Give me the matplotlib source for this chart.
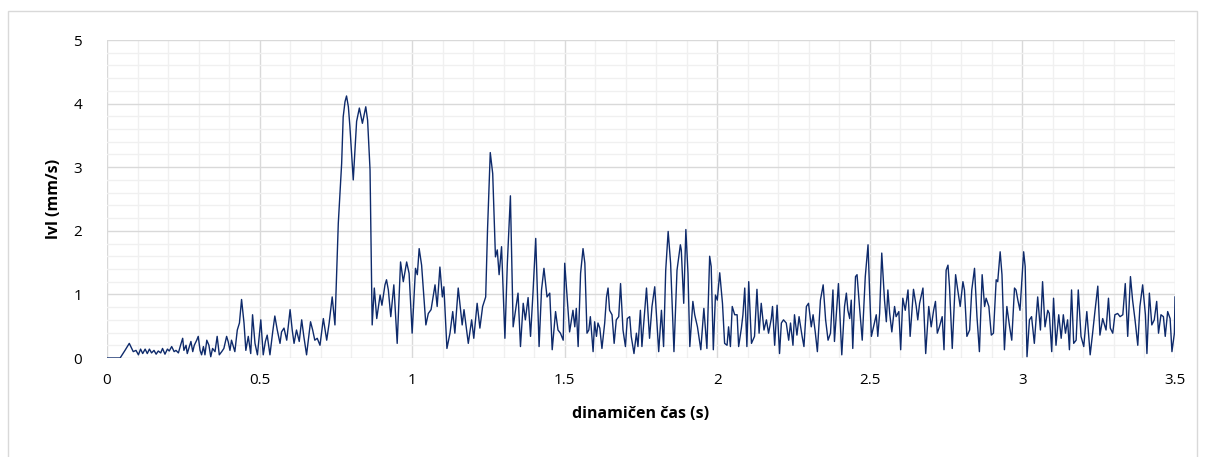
import matplotlib.pyplot as plt
from matplotlib.patches import Rectangle
from matplotlib.ticker import MultipleLocator

# time (s) and |v| (mm/s)
t_start = [0.0, 0.010, 0.043, 0.059, 0.073, 0.086, 0.095, 0.103, 0.110, 0.117,
           0.125, 0.132, 0.139, 0.146, 0.154, 0.161, 0.168, 0.176, 0.182, 0.190,
           0.198, 0.204, 0.212, 0.220, 0.226, 0.234, 0.241, 0.248, 0.252, 0.259,
           0.263, 0.270, 0.275, 0.281, 0.286, 0.294, 0.299, 0.305, 0.310, 0.316,
           0.321, 0.327, 0.334, 0.340, 0.346, 0.354, 0.361, 0.368, 0.376, 0.383,
           0.392, 0.397, 0.403, 0.408, 0.414, 0.419, 0.427, 0.434, 0.441, 0.449,
           0.455, 0.463, 0.471, 0.477, 0.485, 0.493, 0.504, 0.512, 0.519, 0.525,
           0.534, 0.543, 0.550, 0.558, 0.567, 0.572, 0.580, 0.589, 0.600, 0.607,
           0.613, 0.621, 0.630, 0.638, 0.645, 0.654, 0.667, 0.674, 0.681, 0.689,
           0.698, 0.709, 0.720, 0.728, 0.738, 0.747]
v_start = [0.0, 0.0, 0.0, 0.12, 0.23, 0.10, 0.12, 0.05, 0.14, 0.07,
           0.14, 0.07, 0.14, 0.08, 0.12, 0.06, 0.11, 0.08, 0.15, 0.06,
           0.14, 0.11, 0.18, 0.10, 0.12, 0.08, 0.20, 0.31, 0.12, 0.20,
           0.07, 0.18, 0.26, 0.10, 0.20, 0.28, 0.34, 0.12, 0.05, 0.18,
           0.05, 0.28, 0.20, 0.02, 0.15, 0.10, 0.34, 0.05, 0.10, 0.15,
           0.34, 0.26, 0.12, 0.28, 0.18, 0.10, 0.44, 0.55, 0.92, 0.55,
           0.12, 0.34, 0.07, 0.68, 0.23, 0.05, 0.60, 0.05, 0.26, 0.36,
           0.05, 0.41, 0.66, 0.44, 0.23, 0.41, 0.47, 0.28, 0.76, 0.44,
           0.23, 0.44, 0.26, 0.60, 0.34, 0.05, 0.57, 0.44, 0.28, 0.31,
           0.20, 0.62, 0.28, 0.55, 0.96, 0.52]

t_peak = [0.758, 0.769, 0.774, 0.780, 0.785, 0.791, 0.796, 0.807, 0.818, 0.827,
          0.837, 0.848, 0.854, 0.862, 0.869, 0.876, 0.884, 0.895, 0.901, 0.911,
          0.916, 0.922, 0.930, 0.940, 0.951, 0.962, 0.971, 0.982, 0.990, 1.000,
          1.011, 1.017, 1.023, 1.031, 1.045, 1.053, 1.062, 1.075, 1.082, 1.091,
          1.099, 1.104, 1.114, 1.124, 1.133, 1.140, 1.151, 1.164, 1.170, 1.184,
          1.195, 1.202, 1.213, 1.222, 1.231, 1.241, 1.247, 1.256, 1.264, 1.273,
          1.279, 1.285, 1.293, 1.304, 1.312, 1.322, 1.331, 1.347, 1.355, 1.364,
          1.371, 1.380, 1.388, 1.396, 1.405, 1.416, 1.424, 1.432, 1.442, 1.451,
          1.459, 1.470, 1.478, 1.486, 1.495]
v_peak = [2.12, 3.06, 3.79, 4.03, 4.12, 3.95, 3.64, 2.80, 3.72, 3.93,
          3.69, 3.95, 3.74, 2.96, 0.52, 1.10, 0.62, 0.99, 0.83, 1.15,
          1.23, 1.07, 0.65, 1.15, 0.23, 1.51, 1.20, 1.51, 1.33, 0.39,
          1.41, 1.31, 1.72, 1.46, 0.52, 0.70, 0.76, 1.15, 0.81, 1.43,
          0.96, 1.12, 0.15, 0.39, 0.73, 0.39, 1.10, 0.52, 0.76, 0.23,
          0.60, 0.31, 0.86, 0.47, 0.81, 0.96, 2.01, 3.23, 2.90, 1.59,
          1.70, 1.31, 1.75, 0.31, 1.49, 2.55, 0.49, 1.02, 0.18, 0.86,
          0.60, 0.95, 0.34, 1.02, 1.88, 0.18, 1.07, 1.41, 0.96, 1.02,
          0.13, 0.73, 0.44, 0.39, 0.28]

t_mid = [1.500, 1.516, 1.527, 1.533, 1.538, 1.544, 1.552, 1.560, 1.566, 1.573,
         1.579, 1.584, 1.593, 1.598, 1.604, 1.609, 1.615, 1.622, 1.631, 1.637,
         1.642, 1.647, 1.655, 1.662, 1.669, 1.677, 1.683, 1.691, 1.699, 1.705,
         1.713, 1.718, 1.727, 1.735, 1.740, 1.748, 1.753, 1.760, 1.768, 1.778,
         1.786, 1.795, 1.801, 1.808, 1.817, 1.824, 1.831, 1.839, 1.847, 1.858,
         1.868, 1.879, 1.882, 1.890, 1.897, 1.904, 1.910, 1.920, 1.926, 1.935,
         1.946, 1.956, 1.966, 1.975, 1.980, 1.987, 1.994, 2.000, 2.008, 2.017,
         2.024, 2.032, 2.037, 2.043, 2.049, 2.057, 2.065, 2.070, 2.079, 2.084,
         2.090, 2.097, 2.103, 2.112, 2.122, 2.130, 2.137, 2.144, 2.153, 2.161,
         2.168, 2.177, 2.181, 2.188, 2.196, 2.204, 2.210, 2.217, 2.226, 2.234,
         2.240, 2.248, 2.253, 2.261, 2.268, 2.278, 2.284, 2.292, 2.299, 2.308,
         2.314, 2.321, 2.328, 2.338, 2.347, 2.355, 2.363, 2.371, 2.379]
v_mid = [1.49, 0.41, 0.75, 0.49, 0.78, 0.18, 1.33, 1.72, 1.49, 0.39,
         0.44, 0.65, 0.10, 0.57, 0.34, 0.55, 0.47, 0.15, 0.55, 0.96,
         1.10, 0.75, 0.68, 0.23, 0.60, 0.65, 1.17, 0.44, 0.18, 0.62,
         0.65, 0.34, 0.07, 0.39, 0.18, 0.75, 0.18, 0.62, 1.10, 0.31,
         0.81, 1.12, 0.65, 0.10, 0.75, 0.18, 1.38, 1.99, 1.49, 0.10,
         1.38, 1.78, 1.70, 0.86, 2.02, 1.33, 0.18, 0.89, 0.68, 0.49,
         0.13, 0.78, 0.15, 1.60, 1.44, 0.13, 0.99, 0.91, 1.34, 0.86,
         0.23, 0.20, 0.49, 0.18, 0.81, 0.68, 0.68, 0.18, 0.47, 0.68,
         1.10, 0.18, 1.20, 0.23, 0.34, 1.08, 0.39, 0.86, 0.44, 0.60,
         0.39, 0.62, 0.81, 0.20, 0.83, 0.07, 0.55, 0.60, 0.55, 0.28,
         0.55, 0.20, 0.68, 0.36, 0.65, 0.34, 0.18, 0.81, 0.86, 0.49,
         0.68, 0.41, 0.10, 0.91, 1.15, 0.60, 0.28, 0.39, 1.07]

t_late = [2.384, 2.397, 2.408, 2.417, 2.423, 2.428, 2.434, 2.439, 2.444, 2.453,
          2.458, 2.466, 2.475, 2.485, 2.494, 2.499, 2.505, 2.512, 2.521, 2.526,
          2.532, 2.539, 2.548, 2.554, 2.559, 2.565, 2.572, 2.581, 2.586, 2.595,
          2.601, 2.608, 2.616, 2.625, 2.632, 2.643, 2.652, 2.657, 2.663, 2.674,
          2.683, 2.693, 2.701, 2.709, 2.715, 2.721, 2.728, 2.737, 2.743, 2.750,
          2.756, 2.761, 2.770, 2.781, 2.788, 2.796, 2.805, 2.810, 2.818, 2.827,
          2.834, 2.843, 2.851, 2.859, 2.868, 2.876, 2.881, 2.890, 2.898, 2.905,
          2.914, 2.919, 2.927, 2.933, 2.941, 2.949, 2.958, 2.965, 2.974, 2.979,
          2.985, 2.992, 3.004, 3.009, 3.015, 3.023, 3.030, 3.039, 3.050, 3.059,
          3.066, 3.074, 3.083, 3.088, 3.096, 3.102, 3.110, 3.119, 3.127, 3.134,
          3.141, 3.148, 3.154, 3.161, 3.168, 3.176, 3.183, 3.192, 3.201, 3.211,
          3.222, 3.230, 3.238, 3.247, 3.254, 3.263, 3.274, 3.282, 3.288, 3.296,
          3.303, 3.312, 3.320, 3.329, 3.337, 3.345, 3.354, 3.361, 3.369, 3.378,
          3.385, 3.394, 3.403, 3.408, 3.416, 3.424, 3.432, 3.440, 3.446, 3.454,
          3.462, 3.468, 3.476, 3.484, 3.490, 3.498, 3.500]
v_late = [0.26, 1.17, 0.05, 0.81, 1.02, 0.75, 0.62, 0.91, 0.15, 1.28,
          1.31, 0.81, 0.28, 1.28, 1.78, 1.07, 0.34, 0.49, 0.68, 0.34,
          0.70, 1.65, 0.91, 0.57, 1.07, 0.70, 0.41, 0.81, 0.65, 0.73,
          0.13, 0.94, 0.75, 1.07, 0.34, 1.08, 0.81, 0.60, 0.86, 1.10,
          0.07, 0.81, 0.49, 0.75, 0.89, 0.39, 0.49, 0.65, 0.13, 1.38,
          1.46, 1.12, 0.15, 1.31, 1.07, 0.81, 1.20, 1.07, 0.34, 0.44,
          1.07, 1.41, 0.65, 0.10, 1.31, 0.81, 0.94, 0.81, 0.36, 0.39,
          1.23, 1.20, 1.67, 1.31, 0.13, 0.81, 0.49, 0.28, 1.10, 1.07,
          0.91, 0.75, 1.67, 1.44, 0.02, 0.60, 0.65, 0.23, 0.96, 0.44,
          1.20, 0.49, 0.75, 0.70, 0.10, 0.94, 0.20, 0.68, 0.31, 0.68,
          0.39, 0.60, 0.13, 1.07, 0.23, 0.28, 1.07, 0.34, 0.18, 0.73,
          0.05, 0.39, 0.75, 1.13, 0.36, 0.62, 0.44, 0.94, 0.47, 0.39,
          0.68, 0.70, 0.65, 0.68, 1.17, 0.34, 1.28, 0.91, 0.60, 0.20,
          0.81, 1.15, 0.68, 0.07, 1.02, 0.52, 0.60, 0.89, 0.39, 0.68,
          0.65, 0.34, 0.73, 0.62, 0.10, 0.39, 0.96]

t = t_start + t_peak + t_mid + t_late
v = v_start + v_peak + v_mid + v_late

plt.rcParams['font.family'] = ['Open Sans', 'DejaVu Sans']

fig = plt.figure(figsize=(12.06, 4.57), dpi=100)
ax = fig.add_axes([107 / 1206, 1 - 358 / 457, 1068 / 1206, 318 / 457])

ax.plot(t, v, color='#0E2A6B', linewidth=1.0)

ax.set_xlim(0, 3.5)
ax.set_ylim(0, 5)
ax.xaxis.set_major_locator(MultipleLocator(0.5))
ax.xaxis.set_minor_locator(MultipleLocator(0.1))
ax.yaxis.set_major_locator(MultipleLocator(1))
ax.yaxis.set_minor_locator(MultipleLocator(0.2))
ax.set_xticks([0, 0.5, 1, 1.5, 2, 2.5, 3, 3.5])
ax.set_xticklabels(['0', '0.5', '1', '1.5', '2', '2.5', '3', '3.5'])
ax.grid(which='minor', color='#F0F0F0', linewidth=1.0)
ax.grid(which='major', color='#D9D9D9', linewidth=1.0)
ax.set_axisbelow(True)
for s in ax.spines.values():
    s.set_visible(False)
ax.tick_params(which='both', length=0, labelsize=11, colors='#000000')
ax.tick_params(axis='y', pad=18)
ax.tick_params(axis='x', pad=11)

ax.set_xlabel('dinamičen čas (s)', fontsize=11.5, fontweight='bold', labelpad=13)
ax.set_ylabel('lvl (mm/s)', fontsize=11.5, fontweight='bold', labelpad=8)

fig.patches.append(Rectangle((8 / 1206, -0.01), 1189 / 1206, 1 - 11 / 457 + 0.01,
                             transform=fig.transFigure, fill=False,
                             edgecolor='#D9D9D9', linewidth=1.0, clip_on=False))

fig.savefig('out.png', dpi=100)
